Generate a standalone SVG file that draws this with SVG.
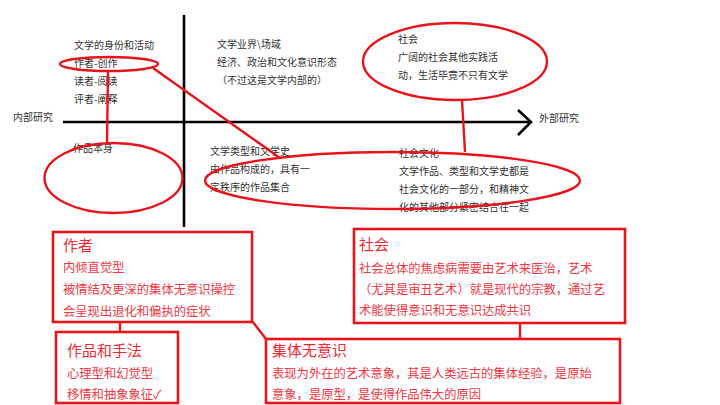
<svg xmlns="http://www.w3.org/2000/svg" width="720" height="405" viewBox="0 0 720 405">
<style>
text{font-family:"Noto Sans CJK SC","DejaVu Sans",sans-serif}
.t{font-size:10px;fill:#333}
.axis{stroke:#000;stroke-width:2.6;fill:none}
.ring{stroke:#e8141c;stroke-width:2.4;fill:none}
.box{stroke:#e8141c;stroke-width:2.6;fill:#fff}
.h{font-size:15px;fill:#ee2a34}
.b{font-size:12.3px;fill:#f0363f}
.link{stroke:#e8141c;stroke-width:2.4;fill:none}
</style>
<rect width="720" height="405" fill="#fff"/>
<g id="axes">
<line class="axis" x1="184" y1="15" x2="184" y2="227"/>
<line class="axis" x1="63" y1="122" x2="530" y2="122"/>
<polyline class="axis" stroke-width="3" points="518,110 531,122 518,135"/>
<text class="t" x="13" y="121">内部研究</text>
<text class="t" x="539" y="122">外部研究</text>
</g>
<g id="q-top-left">
<text class="t" x="74" y="49">文学的身份和活动</text>
<text class="t" x="74" y="67">作者-创作</text>
<text class="t" x="74" y="85">读者-阅读</text>
<text class="t" x="74" y="103">评者-阐释</text>
</g>
<g id="q-top-mid">
<text class="t" x="217" y="48">文学业界\场域</text>
<text class="t" x="217" y="66">经济、政治和文化意识形态</text>
<text class="t" x="217" y="84">（不过这是文学内部的）</text>
</g>
<g id="q-top-right">
<text class="t" x="398" y="43">社会</text>
<text class="t" x="398" y="61">广阔的社会其他实践活</text>
<text class="t" x="398" y="79">动，生活毕竟不只有文学</text>
</g>
<g id="q-bottom-left">
<text class="t" x="73" y="152">作品本身</text>
</g>
<g id="q-bottom-mid">
<text class="t" x="210" y="155">文学类型和文学史</text>
<text class="t" x="210" y="173">由作品构成的，具有一</text>
<text class="t" x="210" y="191">定秩序的作品集合</text>
</g>
<g id="q-bottom-right">
<text class="t" x="399" y="157">社会文化</text>
<text class="t" x="399" y="175">文学作品、类型和文学史都是</text>
<text class="t" x="399" y="193">社会文化的一部分，和精神文</text>
<text class="t" x="399" y="211">化的其他部分紧密结合在一起</text>
</g>
<g id="rings">
<ellipse class="ring" cx="109" cy="64" rx="49" ry="7"/>
<ellipse class="ring" cx="455" cy="61.5" rx="92" ry="38.5"/>
<ellipse class="ring" cx="113.5" cy="178" rx="69" ry="35"/>
<ellipse class="ring" cx="392.5" cy="180.5" rx="187.5" ry="28.5"/>
</g>
<g id="connectors">
<line class="link" x1="108" y1="71" x2="107" y2="143"/>
<line class="link" x1="153" y1="68" x2="280" y2="158"/>
<line class="link" x1="462" y1="100" x2="465" y2="152"/>
<line class="link" x1="120" y1="322" x2="120" y2="332"/>
<line class="link" x1="252" y1="321" x2="266" y2="339"/>
<line class="link" x1="520" y1="323" x2="520" y2="338"/>
</g>
<g id="box-author">
<rect class="box" x="53" y="232" width="199" height="90"/>
<text class="h" x="63" y="251">作者</text>
<text class="b" x="63" y="272">内倾直觉型</text>
<text class="b" x="63" y="294">被情结及更深的集体无意识操控</text>
<text class="b" x="63" y="316">会呈现出退化和偏执的症状</text>
</g>
<g id="box-society">
<rect class="box" x="354" y="229" width="271" height="94"/>
<text class="h" x="359" y="250">社会</text>
<text class="b" x="359" y="273">社会总体的焦虑病需要由艺术来医治，艺术</text>
<text class="b" x="359" y="294">（尤其是审丑艺术）就是现代的宗教，通过艺</text>
<text class="b" x="359" y="315">术能使得意识和无意识达成共识</text>
</g>
<g id="box-works">
<rect class="box" x="56" y="332" width="122" height="71"/>
<text class="h" x="67" y="356">作品和手法</text>
<text class="b" x="67" y="378">心理型和幻觉型</text>
<text class="b" x="67" y="399">移情和抽象象征✓</text>
</g>
<g id="box-collective">
<rect class="box" x="266" y="339" width="354" height="64"/>
<text class="h" x="272" y="356">集体无意识</text>
<text class="b" x="272" y="378">表现为外在的艺术意象，其是人类远古的集体经验，是原始</text>
<text class="b" x="272" y="399">意象，是原型，是使得作品伟大的原因</text>
</g>
</svg>
